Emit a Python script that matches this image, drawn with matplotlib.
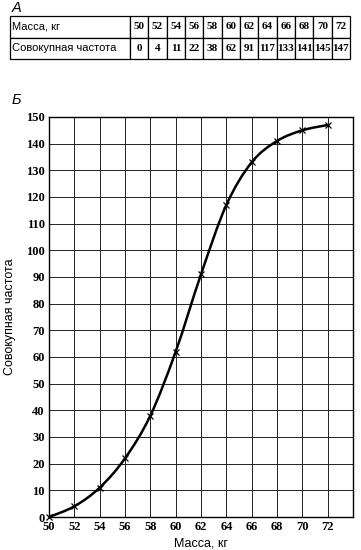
import numpy as np
import matplotlib.pyplot as plt
from matplotlib.path import Path
from matplotlib.patches import PathPatch

mass = [50, 52, 54, 56, 58, 60, 62, 64, 66, 68, 70, 72]
cum_freq = [0, 4, 11, 22, 38, 62, 91, 117, 133, 141, 145, 147]

W, H = 361, 550
fig = plt.figure(figsize=(W / 100, H / 100), dpi=100)
fig.patch.set_facecolor('white')

serif = 'Liberation Serif'
sans = 'Liberation Sans'

# --- table A ---
fig.text(12 / W, 1 - 8 / H, 'А', fontsize=10.5, style='italic', family=sans, va='center')
ax_t = fig.add_axes([10 / W, 1 - 59 / H, 340 / W, 43 / H])
ax_t.axis('off')
rows = [['Масса, кг'] + [str(m) for m in mass],
        ['Совокупная частота'] + [str(c) for c in cum_freq]]
first_w = 120 / 340
other_w = (1 - first_w) / len(mass)
tbl = ax_t.table(cellText=rows, bbox=[0, 0, 1, 1],
                 colWidths=[first_w] + [other_w] * len(mass), cellLoc='center')
tbl.auto_set_font_size(False)
for (r, c), cell in tbl.get_celld().items():
    cell.set_linewidth(0.9)
    cell.set_edgecolor('black')
    txt = cell.get_text()
    if c == 0:
        txt.set_ha('left')
        cell.PAD = 0.02
        txt.set_family(sans)
        txt.set_fontsize(8)
    else:
        txt.set_family(serif)
        txt.set_fontsize(8)
        txt.set_weight('bold')

# --- chart B ---
fig.text(12 / W, 1 - 100 / H, 'Б', fontsize=10.5, style='italic', family=sans, va='center')
ax = fig.add_axes([49 / W, 1 - 517 / H, 304 / W, 400 / H])
ax.set_xlim(50, 74)
ax.set_ylim(0, 150)
ax.set_xticks(np.arange(50, 73, 2))
ax.set_yticks(np.arange(0, 151, 10))
ax.grid(True, color='#222222', linewidth=0.7)
ax.tick_params(length=0, pad=3)
for lab in ax.get_xticklabels() + ax.get_yticklabels():
    lab.set_family(serif)
    lab.set_fontsize(9)
    lab.set_weight('bold')
for s in ax.spines.values():
    s.set_linewidth(1.0)

# smooth curve through the points (Catmull-Rom as cubic Bezier segments)
x = np.array(mass, dtype=float)
y = np.array(cum_freq, dtype=float)
verts = [(x[0], y[0])]
codes = [Path.MOVETO]
for i in range(len(x) - 1):
    p0 = (x[max(i - 1, 0)], y[max(i - 1, 0)])
    p1 = (x[i], y[i])
    p2 = (x[i + 1], y[i + 1])
    p3 = (x[min(i + 2, len(x) - 1)], y[min(i + 2, len(x) - 1)])
    c1 = (p1[0] + (p2[0] - p0[0]) / 6, p1[1] + (p2[1] - p0[1]) / 6)
    c2 = (p2[0] - (p3[0] - p1[0]) / 6, p2[1] - (p3[1] - p1[1]) / 6)
    verts += [c1, c2, p2]
    codes += [Path.CURVE4] * 3
ax.add_patch(PathPatch(Path(verts, codes), facecolor='none', edgecolor='black',
                       linewidth=1.8, zorder=3, clip_on=False))
ax.plot(mass, cum_freq, linestyle='none', marker='x', color='black',
        markersize=4, markeredgewidth=0.9, zorder=4, clip_on=False)

ax.set_xlabel('Масса, кг', family=sans, fontsize=9, labelpad=3)
ax.set_ylabel('Совокупная частота', family=sans, fontsize=9, labelpad=7)

fig.savefig('out.png', dpi=100)
